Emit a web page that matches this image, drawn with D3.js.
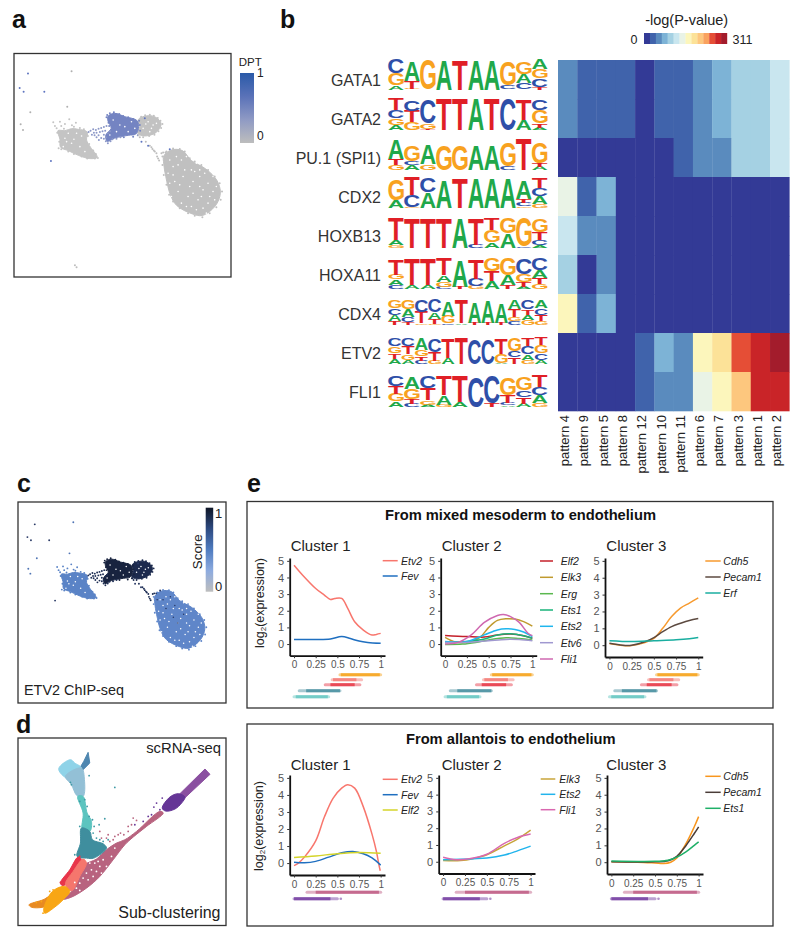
<!DOCTYPE html>
<html>
<head>
<meta charset="utf-8">
<script src="https://cdn.jsdelivr.net/npm/d3@7"></script>
<style>
  html, body { margin: 0; padding: 0; background: #fff; }
  svg { display: block; }
  text { font-family: "Liberation Sans", Arial, sans-serif; fill: #222; }
</style>
</head>
<body>
<div id="chart"></div>
<script>
// ---- panel b: motif enrichment ----
const motifs = ["GATA1", "GATA2", "PU.1 (SPI1)", "CDX2", "HOXB13", "HOXA11", "CDX4", "ETV2", "FLI1"];
const patterns = ["pattern 4", "pattern 9", "pattern 5", "pattern 8", "pattern 12", "pattern 10", "pattern 11", "pattern 6", "pattern 7", "pattern 3", "pattern 1", "pattern 2"];
const pValGata1 = [56, 33, 33, 33, 11, 33, 33, 56, 78, 100, 100, 122];
const pValGata2 = [56, 33, 33, 33, 11, 33, 33, 56, 78, 100, 100, 122];
const pValPu1 = [11, 11, 11, 11, 11, 11, 33, 56, 56, 100, 100, 122];
const pValCdx2 = [144, 33, 78, 11, 11, 11, 11, 11, 11, 11, 11, 11];
const pValHoxb13 = [122, 56, 56, 11, 11, 11, 11, 11, 11, 11, 11, 11];
const pValHoxa11 = [100, 11, 56, 11, 11, 11, 11, 11, 11, 11, 11, 11];
const pValCdx4 = [167, 33, 78, 11, 11, 11, 11, 11, 11, 11, 11, 11];
const pValEtv2 = [11, 11, 11, 11, 33, 78, 56, 167, 189, 255, 278, 300];
const pValFli1 = [11, 11, 11, 11, 33, 56, 56, 144, 167, 211, 278, 278];
const pValues = [pValGata1, pValGata2, pValPu1, pValCdx2, pValHoxb13, pValHoxa11, pValCdx4, pValEtv2, pValFli1];
const heatColors = ["#333a96", "#4063ab", "#5a8bbe", "#7db3d6", "#a5d1e3", "#c9e6ef", "#e9f3e6", "#fcf6bc", "#fce298", "#fdc77e", "#f9a25f", "#e54e36", "#c92428", "#a31c2c"];

// logo columns, letters from the bottom of the stack to the top, heights in bits
const logoGata1 = [
  [["A", .27], ["G", .73], ["C", .9]], [["G", .06], ["T", .46], ["A", 1.2]], [["G", 1.85]], [["A", 1.85]], [["T", 1.85]],
  [["A", 1.85]], [["A", 1.85]], [["C", .25], ["G", 1.45]], [["C", .42], ["A", .55], ["G", .75]], [["T", .17], ["C", .52], ["G", .58], ["A", .62]]
];
const logoGata2 = [
  [["A", .3], ["G", .42], ["C", .5], ["T", .7]], [["G", .5], ["T", .7], ["C", .65]], [["T", .06], ["G", .35], ["C", 1.45]], [["T", 1.95]], [["T", 1.95]],
  [["A", 1.95]], [["T", 1.95]], [["C", 1.95]], [["A", .62], ["T", 1.3]], [["A", .15], ["T", .27], ["G", .8], ["C", .65]]
];
const logoPu1 = [
  [["G", .3], ["T", .4], ["A", 1.2]], [["A", .3], ["C", .25], ["G", 1.0]], [["G", .35], ["A", 1.2]], [["G", 1.55]], [["G", 1.55]],
  [["A", 1.55]], [["A", 1.55]], [["C", .25], ["G", 1.5]], [["T", 1.95]], [["A", .2], ["T", .25], ["G", 1.3]]
];
const logoCdx2 = [
  [["A", .5], ["G", 1.35]], [["G", .06], ["C", .75], ["T", 1.1]], [["A", 1.0], ["C", .9]], [["A", 1.7]], [["T", 1.9]],
  [["A", 1.85]], [["A", 1.85]], [["A", 1.85]], [["G", .1], ["C", .2], ["T", .27], ["A", 1.1]], [["G", .27], ["A", .45], ["C", .5], ["T", .6]]
];
const logoHoxb13 = [
  [["G", .17], ["A", .3], ["T", 1.4]], [["T", 1.88]], [["T", 1.88]], [["T", 1.88]], [["A", 1.85]],
  [["C", .2], ["T", 1.65]], [["A", .35], ["G", .75], ["T", .75]], [["A", .9], ["G", .95]], [["C", .08], ["G", 1.8]], [["A", .17], ["C", .3], ["T", .5], ["G", .85]]
];
const logoHoxa11 = [
  [["C", .25], ["A", .35], ["G", .3], ["T", 1.0]], [["A", .25], ["T", 1.65]], [["A", .25], ["T", 1.65]], [["C", .15], ["G", .3], ["A", .4], ["T", 1.05]], [["T", .15], ["A", 1.65]],
  [["G", .2], ["C", .45], ["T", 1.25]], [["A", .5], ["T", .6], ["G", .85]], [["T", .25], ["A", .6], ["G", 1.05]], [["A", .15], ["T", .3], ["G", .5], ["C", .95]], [["G", .3], ["T", .38], ["A", .5], ["C", .75]]
];
const logoCdx4 = [
  [["T", .25], ["A", .38], ["C", .42], ["G", .5]], [["T", .17], ["C", .3], ["A", .5], ["G", .6]], [["G", .1], ["T", .72], ["C", .72]], [["G", .05], ["T", .33], ["A", .42], ["C", .78]],
  [["C", .1], ["G", .48], ["A", .88]], [["A", .1], ["T", 1.45]], [["T", .15], ["A", 1.3]], [["T", .12], ["A", 1.35]], [["T", .12], ["A", 1.25]],
  [["C", .25], ["G", .27], ["T", .5], ["A", .52]], [["G", .3], ["A", .35], ["T", .33], ["C", .55]], [["G", .25], ["T", .38], ["C", .42], ["A", .5]]
];
const logoEtv2 = [
  [["A", .33], ["T", .35], ["G", .42], ["C", .5]], [["A", .27], ["G", .35], ["T", .48], ["C", .5]], [["C", .2], ["T", .27], ["G", .42], ["A", .72]], [["G", .2], ["T", .56], ["C", .83]],
  [["A", .38], ["T", 1.2]], [["T", 1.58]], [["C", 1.58]], [["C", 1.58]], [["A", .06], ["G", .55], ["T", 1.0]],
  [["T", .42], ["C", .38], ["G", .83]], [["G", .27], ["A", .35], ["C", .48], ["T", .5]], [["A", .27], ["C", .42], ["G", .48], ["T", .46]]
];
const logoFli1 = [
  [["A", .35], ["G", .48], ["T", .48], ["C", .67]], [["C", .2], ["T", .3], ["G", .62], ["A", .73]], [["A", .15], ["G", .27], ["T", .73], ["C", .73]], [["G", .15], ["A", .58], ["T", 1.2]], [["A", .3], ["T", 1.6]],
  [["C", 1.9]], [["T", .2], ["C", 1.75]], [["A", .1], ["C", .15], ["T", .48], ["G", 1.1]], [["A", .2], ["T", .42], ["C", .42], ["G", .83]], [["G", .27], ["A", .46], ["C", .52], ["T", .73]]
];
const logos = [logoGata1, logoGata2, logoPu1, logoCdx2, logoHoxb13, logoHoxa11, logoCdx4, logoEtv2, logoFli1];
const letterColors = { A: "#1fa84a", C: "#2f4fa8", G: "#f8a21f", T: "#e01f26" };

// ---- panels a / c: embedding ----
const cloudLeft = [[174,392],[195,392],[215,386],[235,388],[262,396],[260,420],[272,442],[292,472],[270,476],[235,466],[205,452],[182,442],[180,418]];
const cloudMid = [[325,348],[345,340],[375,350],[412,362],[416,385],[408,402],[385,406],[345,414],[322,424],[318,405],[334,385],[324,362]];
const cloudRight = [[416,358],[445,347],[468,352],[484,372],[468,398],[432,408],[414,400],[420,380]];
const cloudBig = [[492,468],[515,450],[548,452],[575,482],[618,507],[652,542],[662,580],[647,618],[608,647],[577,642],[532,618],[513,588],[498,530],[492,492]];
const ptsBridge = [[266,396],[272,392],[280,388],[288,390],[296,386],[304,384],[312,381],[320,378],[276,404],[284,406],[290,412],[297,420],[304,414],[312,404],[318,424],[324,430],[332,424],[300,396],[308,394],[316,392],[290,398],[282,398],[296,406],[324,400],[330,394],[312,416],[318,412],[338,418],[350,416],[362,412]];
const ptsConnector = [[420,412],[438,425],[450,437],[455,442],[458,447],[462,452],[465,455],[472,470],[475,476],[478,482],[485,460],[490,458],[497,458],[470,460]];
const ptsLeftEdge = [[160,367],[165,378],[170,385],[180,365],[184,378],[192,386],[195,372],[208,358],[216,376],[222,380],[228,368],[178,425],[176,445],[184,448],[205,455],[222,462],[245,470],[262,476],[285,476],[294,474],[172,398],[240,384],[252,388],[264,408],[268,432],[280,452],[288,462]];
const ptsMidEdge = [[322,345],[330,340],[342,337],[358,342],[370,348],[385,352],[400,357],[418,362],[420,375],[421,392],[414,406],[400,410],[372,412],[326,368],[320,352],[328,378],[346,345],[390,356]];
const ptsRightEdge = [[424,350],[436,346],[450,344],[462,347],[474,354],[482,362],[488,372],[484,384],[476,394],[464,404],[448,408],[430,412],[416,406]];
const ptsBigEdge = [[488,470],[500,455],[520,446],[540,447],[555,455],[570,475],[585,485],[605,495],[625,510],[645,530],[660,550],[667,575],[663,600],[650,622],[630,640],[608,652],[585,648],[565,640],[540,625],[520,605],[508,585],[500,555],[492,525],[488,495]];
const strayBlue = [[84,220],[59,264],[71,275],[133,275],[153,483],[425,425],[445,437],[510,448],[435,355]];
const strayGrey = [[215,213],[202,320],[91,337],[62,373],[69,390]];
const strayBottom = [[225,797],[230,803]];
const gapsBig = [[520,500],[545,480],[575,510],[600,530],[625,550],[640,575],[610,570],[580,545],[550,530],[525,545],[535,575],[565,590],[595,600],[625,610],[560,620],[515,590],[650,560],[590,490],[640,530],[530,470],[505,520],[610,625],[545,610],[600,560],[570,560],[520,525],
  [510,480],[560,470],[535,495],[555,510],[585,515],[615,520],[630,590],[645,600],[580,580],[540,555],[510,550],[590,630],[620,640],[605,590],[575,620],[600,510]];
const gapsSmall = [[445,365],[460,375],[430,385],[450,395],[470,370],[438,372],[455,385],[195,415],[215,430],[205,400],[230,400],[240,440],[255,455],[190,440],[200,425],[245,408],[222,418],[340,360],[375,380],[395,365],[350,395],[405,385],[330,405],[360,375],[385,395]];
const darkSpecksBig = [[545,470],[560,500],[590,530],[570,560],[520,480],[530,510],[500,480],[555,540]];

// ---- panel d: sub-clustering ----
const subClusters = [
  { color: "#b8637f", shape: [[190,598],[215,575],[240,530],[255,495],[290,478],[320,450],[350,430],[375,420],[410,395],[480,335],[490,340],[440,380],[400,412],[375,435],[340,480],[300,530],[260,565],[215,592]] },
  { color: "#8fd3e8", shape: [[177,207],[212,180],[225,190],[245,205],[215,235],[195,232]] },
  { color: "#93c0d6", shape: [[197,230],[245,205],[254,240],[250,290],[232,288],[215,255]] },
  { color: "#5cc4bf", shape: [[234,290],[250,290],[262,340],[275,365],[270,395],[248,390],[250,340]] },
  { color: "#3f8e9e", shape: [[245,385],[270,395],[278,420],[310,432],[320,445],[282,475],[260,475],[232,470],[242,430]] },
  { color: "#e8354a", shape: [[182,550],[210,510],[235,472],[245,480],[225,520],[205,545],[190,558]] },
  { color: "#f5766d", shape: [[197,552],[220,515],[250,478],[260,490],[240,530],[218,572],[205,568]] },
  { color: "#e88a22", shape: [[88,615],[130,600],[160,585],[165,605],[130,622],[95,622]] },
  { color: "#f8a614", shape: [[132,628],[158,575],[195,560],[210,575],[190,600],[165,622],[135,640]] },
  { color: "#653596", shape: [[487,325],[510,292],[535,282],[555,292],[545,310],[525,328],[497,334]] }
];
// straight-edged arms of the embedding
const subArmSpike = { color: "#4f87b0", shape: [[265,158],[270,190],[250,210],[240,205],[252,185]] };
const subArmPurple = { color: "#8a4fa0", shape: [[540,282],[615,208],[630,224],[553,296]] };
const subPtsPurple = [[462,322],[470,310],[487,295],[445,350],[430,365],[405,375],[455,345],[480,330]];
const subPtsRose = [[400,355],[410,362],[355,405],[300,395],[325,405],[345,410],[320,415],[362,400],[372,405],[385,395],[330,425],[340,420],[305,415],[385,380],[395,375]];
const subPtsTeal = [[345,263],[268,228],[315,357],[298,375],[283,380],[310,425],[325,420],[280,400],[290,415],[300,420],[240,380],[225,465],[215,255],[212,248],[255,300],[262,320],[240,305],[268,350],[278,360]];
const subPtsRed = [[182,548],[190,542],[200,530],[232,478],[240,470],[228,490]];
const subPtsOrange = [[130,640],[150,575],[160,570],[178,565],[125,605],[110,608]];
const subGaps = [[285,490],[260,520],[240,550],[300,500],[275,510],[335,470],[230,565],[250,535],[295,485],[310,480],[270,490],[225,548],[240,572],[265,540],[345,445],[290,515],[320,500],[305,520],[280,530]];

// ---- panel e: expression trends, [pseudotime, log2 expression] ----
const xTickVals = [0, .25, .5, .75, 1];
const yTickVals = [0, 1, 2, 3, 4, 5];
const upC1 = [
  { gene: "Etv2", color: "#f8766d", pts: [[0,4.74],[.1,4.14],[.25,3.34],[.35,2.94],[.42,2.68],[.47,2.74],[.55,2.74],[.62,2.14],[.7,1.34],[.8,.84],[.9,.54],[.95,.58],[1,.64]] },
  { gene: "Fev", color: "#1f6fc0", pts: [[0,.27],[.25,.27],[.42,.3],[.55,.45],[.65,.33],[.75,.18],[.85,.1],[1,.05]] }
];
const upC2 = [
  { gene: "Elf2", color: "#c4202a", pts: [[0,.52],[.25,.45],[.45,.42],[.6,.55],[.75,.6],[.9,.5],[1,.35]] },
  { gene: "Elk3", color: "#c09a2e", pts: [[0,.4],[.12,.12],[.25,.1],[.4,.4],[.5,1.0],[.6,1.42],[.7,1.52],[.8,1.5],[.9,1.35],[1,1.08]] },
  { gene: "Erg", color: "#5bb84f", pts: [[0,-.02],[.2,0],[.35,.1],[.5,.25],[.7,.38],[.85,.33],[1,.25]] },
  { gene: "Ets1", color: "#19b37a", pts: [[0,.1],[.25,.15],[.45,.3],[.6,.55],[.75,.62],[.9,.5],[1,.35]] },
  { gene: "Ets2", color: "#1fb6ee", pts: [[0,.15],[.25,.15],[.45,.55],[.6,.85],[.7,.92],[.8,.88],[.9,.72],[1,.45]] },
  { gene: "Etv6", color: "#a098d0", pts: [[0,.1],[.25,.1],[.5,.2],[.7,.28],[.85,.27],[1,.2]] },
  { gene: "Fli1", color: "#cf68b0", pts: [[0,0],[.15,.1],[.3,.55],[.45,1.3],[.6,1.72],[.67,1.78],[.75,1.65],[.85,1.3],[.95,.65],[1,.5]] }
];
const upC3 = [
  { gene: "Cdh5", color: "#f79a2e", pts: [[0,.1],[.15,-.02],[.25,-.02],[.4,.15],[.5,.4],[.6,1.0],[.7,1.7],[.8,2.2],[.9,2.5],[1,2.8]] },
  { gene: "Pecam1", color: "#5c4a40", pts: [[0,.12],[.15,0],[.25,0],[.4,.2],[.5,.45],[.6,.8],[.7,1.1],[.8,1.3],[.9,1.47],[1,1.58]] },
  { gene: "Erf", color: "#1aaea0", pts: [[0,.27],[.25,.22],[.5,.27],[.75,.32],[.9,.38],[1,.45]] }
];
const lowC1 = [
  { gene: "Etv2", color: "#f8766d", pts: [[0,-.15],[.05,0],[.12,.35],[.25,1.3],[.35,2.7],[.45,3.8],[.55,4.4],[.62,4.6],[.7,4.4],[.8,3.3],[.9,1.7],[.95,.7],[.98,-.1],[.995,-.45]] },
  { gene: "Fev", color: "#1f6fc0", pts: [[0,.05],[.12,.02],[.25,.1],[.4,.35],[.55,.6],[.68,.68],[.8,.55],[.9,.3],[1,-.12]] },
  { gene: "Elf2", color: "#d4d42a", pts: [[0,.33],[.25,.42],[.5,.55],[.75,.62],[1,.57]] }
];
const lowC2 = [
  { gene: "Elk3", color: "#c8a43a", pts: [[0,.07],[.2,.07],[.35,.2],[.5,.42],[.7,.95],[.85,1.35],[1,1.88]] },
  { gene: "Ets2", color: "#22b4ec", pts: [[0,.12],[.2,.15],[.35,.18],[.5,.22],[.7,.4],[.85,.65],[1,.93]] },
  { gene: "Fli1", color: "#d968b0", pts: [[0,.27],[.15,.12],[.3,.18],[.5,.45],[.7,1.1],[.85,1.45],[1,1.65]] }
];
const lowC3 = [
  { gene: "Cdh5", color: "#f8961e", pts: [[0,.02],[.3,0],[.5,-.05],[.6,-.08],[.68,0],[.75,.25],[.85,1.05],[.95,2.1],[1,2.7]] },
  { gene: "Pecam1", color: "#4a3c38", pts: [[0,.02],[.5,.02],[.65,.08],[.75,.35],[.85,.95],[.95,1.7],[1,2.1]] },
  { gene: "Ets1", color: "#1fb068", pts: [[0,.07],[.5,.05],[.65,.12],[.75,.3],[.85,.6],[.95,1.0],[1,1.2]] }
];
// pseudotime ranges of the sub-clusters under each trend plot
const upTracks = [
  { color: "#f6a623", core: [.54, .99], fade: [.53, 1] },
  { color: "#f4807a", core: [.45, .72], fade: [.44, .78] },
  { color: "#e8404f", core: [.42, .7], fade: [.36, .76] },
  { color: "#4f93a3", core: [.14, .53], fade: [.06, .53] },
  { color: "#6cc9c4", core: [.02, .39], fade: [0, .4] }
];
const lowTracks = [
  { color: "#c2648a", core: [.25, .98], fade: [.15, 1] },
  { color: "#7a45a5", core: [.0, .42], fade: [0, .5] }
];
const lowTrackDots = [[.54, 1]];

// ---- drawing ----
const svg = d3.select("#chart").append("svg").attr("width", 800).attr("height", 938);

function etiqueta(t, x, y, size, opts = {}) {
  const el = svg.append("text")
    .attr("x", x).attr("y", y)
    .attr("dominant-baseline", opts.baseline || "central")
    .attr("text-anchor", opts.anchor || "start")
    .style("font-size", `${size}px`)
    .text(t);
  if (opts.bold) el.style("font-weight", "bold");
  if (opts.italic) el.style("font-style", "italic");
  if (opts.fill) el.style("fill", opts.fill);
  if (opts.rotate != null) el.attr("transform", `rotate(${opts.rotate},${x},${y})`);
  return el;
}

function caja(x0, y0, x1, y1) {
  svg.append("rect").attr("x", x0).attr("y", y0).attr("width", x1 - x0).attr("height", y1 - y0)
    .attr("fill", "none").attr("stroke", "#333").attr("stroke-width", 1.3);
}

function barraColor(id, x, y, w, h, stops) {
  const grad = svg.append("defs").append("linearGradient").attr("id", id)
    .attr("x1", 0).attr("x2", 0).attr("y1", 0).attr("y2", 1);
  stops.forEach((c, i) => grad.append("stop").attr("offset", i / (stops.length - 1)).attr("stop-color", c));
  svg.append("rect").attr("x", x).attr("y", y).attr("width", w).attr("height", h).attr("fill", `url(#${id})`);
}

["a", "b", "c", "d", "e"].forEach((l, i) => {
  const pos = [[12, 28], [280, 28], [17, 492], [16, 733], [247, 492]][i];
  etiqueta(l, pos[0], pos[1], 25, { bold: true, baseline: "auto", fill: "#111" });
});

// nube de puntos de los paneles a y c
function dibujarEmbedding(xS, yS, col, r) {
  const g = svg.append("g");
  const line = d3.line().x(d => xS(d[0])).y(d => yS(d[1])).curve(d3.curveCatmullRomClosed.alpha(.5));
  const forma = (pts, c) => g.append("path").attr("d", line(pts)).attr("fill", c).attr("stroke", c).attr("stroke-width", 1);
  const puntos = (pts, c, rad = r) => g.append("g").selectAll("circle").data(pts).join("circle")
    .attr("cx", d => xS(d[0])).attr("cy", d => yS(d[1])).attr("r", rad).attr("fill", c);

  forma(cloudLeft, col.left);
  forma(cloudRight, col.right);
  forma(cloudMid, col.mid);
  forma(cloudBig, col.big);
  puntos(gapsBig, "#fff", r * .8);
  puntos(gapsSmall, "#fff", r * .8);
  puntos(ptsBridge, col.bridge);
  puntos(ptsConnector, col.connector);
  puntos(ptsLeftEdge, col.left);
  puntos(ptsMidEdge, col.mid);
  puntos(ptsRightEdge, col.right);
  puntos(ptsBigEdge, col.big);
  puntos(strayBlue, col.stray);
  puntos(strayGrey, col.strayGrey);
  puntos(strayBottom, col.bottom);
  if (col.specks) puntos(darkSpecksBig, col.specks, r * .8);
}

// panel a
caja(14, 53.5, 231, 277);
dibujarEmbedding(
  d3.scaleLinear().domain([42, 694]).range([14, 231]),
  d3.scaleLinear().domain([160, 832]).range([53.5, 277]),
  { left: "#c4c4c4", right: "#c2c2c2", mid: "#7484c2", big: "#c0c0c0", bridge: "#8c98c8", connector: "#bdbdbd", stray: "#5f75c0", strayGrey: "#b0b0b0", bottom: "#bdbdbd" },
  1
);
etiqueta("DPT", 238.7, 62, 11.5);
barraColor("grad-dpt", 240, 73, 14, 70, ["#2a5aa8", "#5a72b8", "#8f9ac4", "#bdbdbd"]);
etiqueta("1", 257, 73, 12);
etiqueta("0", 257, 136, 12);

// panel c
caja(18, 502, 226, 703);
dibujarEmbedding(
  d3.scaleLinear().domain([27, 734]).range([18, 226]),
  d3.scaleLinear().domain([143, 836]).range([502, 703]),
  { left: "#5a83c6", right: "#1c2a4e", mid: "#18233f", big: "#5f86c9", bridge: "#1f2f55", connector: "#1f2f55", stray: "#2a3a66", strayGrey: "#4f74b4", bottom: "#fff", specks: "#2a3a66" },
  .95
);
barraColor("grad-score", 205.7, 507.7, 7.5, 84, ["#0f1626", "#2d4a80", "#4f7cc0", "#8dabdf", "#bdbdbd"]);
etiqueta("Score", 198, 551.7, 13.4, { anchor: "middle", rotate: -90 });
etiqueta("1", 215, 513, 13);
etiqueta("0", 215, 586, 13);
etiqueta("ETV2 ChIP-seq", 24, 690, 14.4);

// panel d
caja(18, 738, 226, 925.5);
const xD = d3.scaleLinear().domain([55, 678]).range([18, 226]);
const yD = d3.scaleLinear().domain([115, 677]).range([738, 925.5]);
const lineD = d3.line().x(d => xD(d[0])).y(d => yD(d[1])).curve(d3.curveCatmullRomClosed.alpha(.5));
const lineArm = d3.line().x(d => xD(d[0])).y(d => yD(d[1])).curve(d3.curveLinearClosed);
svg.append("g").selectAll("path").data([subArmSpike, subArmPurple]).join("path")
  .attr("d", d => lineArm(d.shape)).attr("fill", d => d.color).attr("stroke", d => d.color).attr("stroke-width", 1);
svg.append("g").selectAll("path").data(subClusters).join("path")
  .attr("d", d => lineD(d.shape)).attr("fill", d => d.color).attr("stroke", d => d.color).attr("stroke-width", 1);
[[subGaps, "#fff"], [subPtsPurple, "#653596"], [subPtsRose, "#b8637f"], [subPtsTeal, "#3f9aa5"], [subPtsRed, "#e8354a"], [subPtsOrange, "#f8a614"]].forEach(([pts, c]) => {
  svg.append("g").selectAll("circle").data(pts).join("circle")
    .attr("cx", d => xD(d[0])).attr("cy", d => yD(d[1])).attr("r", .9).attr("fill", c);
});
etiqueta("scRNA-seq", 221, 748, 14.8, { anchor: "end" });
etiqueta("Sub-clustering", 220.5, 912.7, 16, { anchor: "end" });

// panel b: heatmap
const xHeat = d3.scaleBand().domain(patterns).range([558, 789.3]);
const yHeat = d3.scaleBand().domain(motifs).range([60, 411]);
const colorHeat = d3.scaleQuantize().domain([0, 311]).range(heatColors);
motifs.forEach((m, i) => {
  svg.append("g").selectAll("rect").data(pValues[i]).join("rect")
    .attr("x", (d, j) => xHeat(patterns[j]))
    .attr("y", yHeat(m))
    .attr("width", xHeat.bandwidth() + .3)
    .attr("height", yHeat.bandwidth() + .3)
    .attr("fill", d => colorHeat(d));
  etiqueta(m, 381, yHeat(m) + yHeat.bandwidth() / 2 + .5, 16, { anchor: "end", fill: "#333" });
});
patterns.forEach(p => {
  const cx = xHeat(p) + xHeat.bandwidth() / 2 + 1.5;
  svg.append("text").attr("transform", `translate(${cx},415) rotate(-90)`)
    .attr("text-anchor", "end").style("font-size", "13px").text(p);
});

// leyenda del heatmap
const xLeg = d3.scaleBand().domain(d3.range(heatColors.length)).range([644, 727]);
svg.append("g").selectAll("rect").data(heatColors).join("rect")
  .attr("x", (d, i) => xLeg(i)).attr("y", 33).attr("width", xLeg.bandwidth() + .2).attr("height", 11).attr("fill", d => d);
etiqueta("-log(P-value)", 686.7, 20, 14.5, { anchor: "middle" });
etiqueta("0", 634, 39.5, 12.5, { anchor: "middle" });
etiqueta("311", 732.5, 39.5, 12.5);

// logos
const ctx = document.createElement("canvas").getContext("2d");
ctx.font = "bold 100px 'Liberation Sans'";
const metricas = {};
"ACGT".split("").forEach(l => { metricas[l] = ctx.measureText(l); });
const baseLogo = [89.5, 130, 170, 208, 248, 289, 325, 364, 407];
const yBits = d3.scaleLinear().domain([0, 2]).range([0, 32]);

logos.forEach((logo, i) => {
  const xLogo = d3.scaleBand().domain(d3.range(logo.length)).range([388.3, 548]);
  const g = svg.append("g");
  logo.forEach((col, j) => {
    let acum = 0;
    col.forEach(([letra, bits]) => {
      const m = metricas[letra];
      const ancho = m.actualBoundingBoxLeft + m.actualBoundingBoxRight;
      const alto = m.actualBoundingBoxAscent + m.actualBoundingBoxDescent;
      const h = yBits(bits);
      const w = xLogo.bandwidth() * .97;
      const yBase = baseLogo[i] - acum;
      g.append("text")
        .attr("transform", `translate(${xLogo(j)},${yBase}) scale(${w / ancho},${h / alto})`)
        .attr("x", m.actualBoundingBoxLeft)
        .attr("y", -m.actualBoundingBoxDescent)
        .style("font", "bold 100px 'Liberation Sans'")
        .style("fill", letterColors[letra])
        .text(letra);
      acum += h;
    });
  });
});

// panel e
caja(247, 501.5, 773, 708);
caja(247, 724, 773, 926);
etiqueta("From mixed mesoderm to endothelium", 520.5, 515, 14.7, { anchor: "middle", bold: true, fill: "#111" });
etiqueta("From allantois to endothelium", 510.8, 739, 14.7, { anchor: "middle", bold: true, fill: "#111" });

function dibujarCluster(cfg) {
  const x = d3.scaleLinear().domain([-.05, 1.05]).range([cfg.x0, cfg.x1]);
  const y = d3.scaleLinear().domain([-.7, 5.17]).range([cfg.yBot, cfg.yTop]);
  const g = svg.append("g");

  const ejeX = g.append("g").attr("transform", `translate(0,${cfg.yBot})`)
    .call(d3.axisBottom(x).tickValues(xTickVals).tickFormat(d => String(d)).tickSize(2.5).tickSizeOuter(0).tickPadding(3));
  const ejeY = g.append("g").attr("transform", `translate(${cfg.x0},0)`)
    .call(d3.axisLeft(y).tickValues(yTickVals).tickFormat(d => String(d)).tickSize(2.5).tickSizeOuter(0).tickPadding(3));
  [ejeX, ejeY].forEach(e => {
    e.select(".domain").attr("stroke", "#111").attr("stroke-width", 1.8);
    e.selectAll(".tick line").attr("stroke", "#333");
    e.selectAll("text").style("fill", "#555").style("font-size", e === ejeX ? "10px" : "11px")
      .style("font-family", "'Liberation Sans'");
  });

  const linea = d3.line().x(d => x(d[0])).y(d => y(d[1])).curve(d3.curveCatmullRom.alpha(.5));
  cfg.series.forEach(s => {
    g.append("path").attr("d", linea(s.pts)).attr("fill", "none").attr("stroke", s.color).attr("stroke-width", 1.5);
  });

  cfg.series.forEach((s, i) => {
    const ly = cfg.legY[i];
    g.append("line").attr("x1", cfg.legX[0]).attr("x2", cfg.legX[1]).attr("y1", ly).attr("y2", ly)
      .attr("stroke", s.color).attr("stroke-width", 1.5);
    etiqueta(s.gene, cfg.legX[2], ly, 10.5, { italic: true });
  });

  etiqueta(cfg.title, cfg.titleX, cfg.titleY, 15);

  cfg.tracks.forEach((t, i) => {
    const ty = cfg.trackY[i];
    g.append("line").attr("x1", x(t.fade[0])).attr("x2", x(t.fade[1])).attr("y1", ty).attr("y2", ty)
      .attr("stroke", t.color).attr("stroke-width", 3).attr("stroke-opacity", .5).attr("stroke-linecap", "round");
    g.append("line").attr("x1", x(t.core[0])).attr("x2", x(t.core[1])).attr("y1", ty).attr("y2", ty)
      .attr("stroke", t.color).attr("stroke-width", 3).attr("stroke-opacity", .9);
  });
  if (cfg.dots) {
    g.selectAll("circle.punto").data(cfg.dots).join("circle").attr("class", "punto")
      .attr("cx", d => x(d[0])).attr("cy", d => cfg.trackY[d[1]]).attr("r", 1.3).attr("fill", cfg.tracks[1].color).attr("opacity", .6);
  }
}

const upTrackY = [674.7, 679.7, 684.7, 690.7, 696.7];
const lowTrackY = [892.3, 898.7];
[
  { title: "Cluster 1", titleX: 290.7, titleY: 545, x0: 289.7, x1: 385, yTop: 558, yBot: 655.7, series: upC1, legX: [382.7, 397.7, 401], legY: [560.7, 576], tracks: upTracks, trackY: upTrackY },
  { title: "Cluster 2", titleX: 441.7, titleY: 545, x0: 440.7, x1: 536.7, yTop: 558, yBot: 655.7, series: upC2, legX: [540, 553, 560.7], legY: [561, 577.3, 593.7, 610, 626.3, 642.7, 659], tracks: upTracks, trackY: upTrackY },
  { title: "Cluster 3", titleX: 606.3, titleY: 545, x0: 605, x1: 702.7, yTop: 558, yBot: 657, series: upC3, legX: [705.3, 720.7, 723.3], legY: [561, 577, 593], tracks: upTracks, trackY: upTrackY },
  { title: "Cluster 1", titleX: 290.7, titleY: 764.3, x0: 289.7, x1: 385, yTop: 775, yBot: 875, series: lowC1, legX: [382.7, 397.7, 401], legY: [779.3, 794.7, 810], tracks: lowTracks, trackY: lowTrackY, dots: lowTrackDots },
  { title: "Cluster 2", titleX: 441.7, titleY: 764.3, x0: 438.7, x1: 535, yTop: 775, yBot: 873.5, series: lowC2, legX: [540.7, 555.3, 559.3], legY: [779, 794.3, 809.7], tracks: lowTracks, trackY: lowTrackY, dots: lowTrackDots },
  { title: "Cluster 3", titleX: 606.3, titleY: 764.3, x0: 607, x1: 703, yTop: 775, yBot: 874, series: lowC3, legX: [705.3, 720.7, 723.3], legY: [776.3, 792.3, 808.3], tracks: lowTracks, trackY: lowTrackY, dots: lowTrackDots }
].forEach(dibujarCluster);

// etiquetas log2(expression) con subindice
[[260, 603], [259, 826]].forEach(([lx, ly]) => {
  const t = svg.append("text").attr("transform", `translate(${lx},${ly}) rotate(-90)`)
    .attr("text-anchor", "middle").attr("dominant-baseline", "central").style("font-size", "12.5px");
  t.append("tspan").text("log");
  t.append("tspan").attr("dy", 3).style("font-size", "8px").text("2");
  t.append("tspan").attr("dy", -3).text("(expression)");
});
</script>
</body>
</html>
